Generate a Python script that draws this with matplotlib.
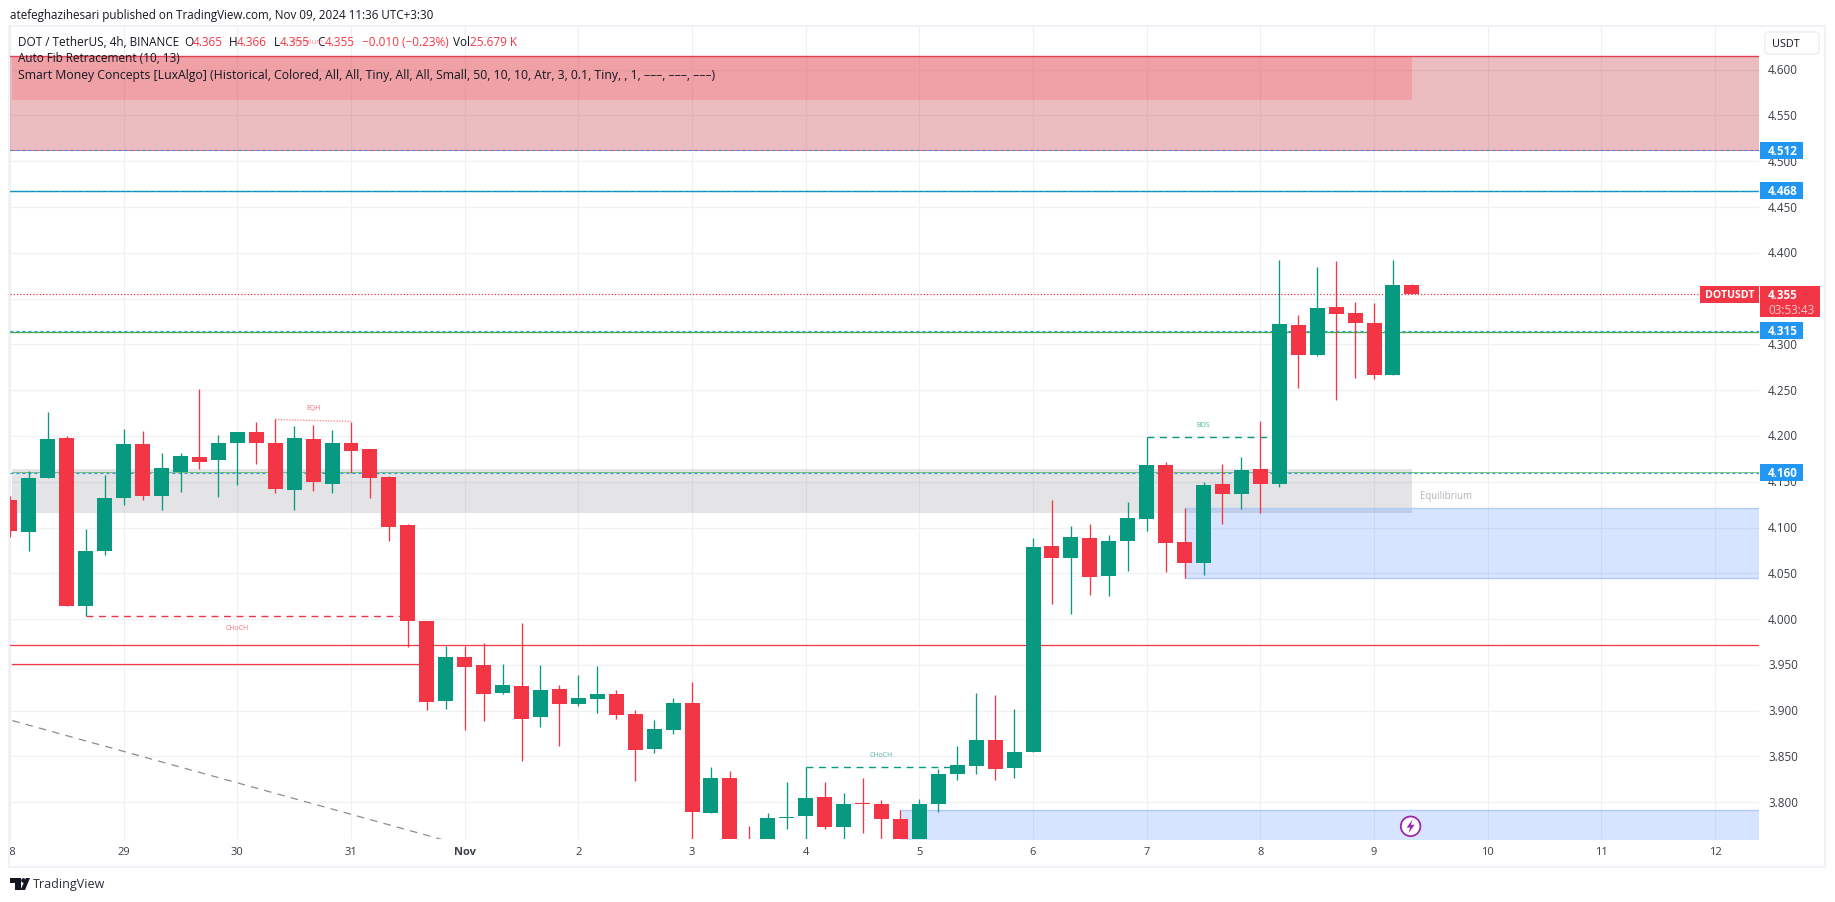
import matplotlib
matplotlib.use("Agg")
import matplotlib.pyplot as plt
from matplotlib.patches import Rectangle, Circle, Polygon, FancyBboxPatch
from matplotlib.transforms import Bbox

plt.rcParams['font.family'] = ['Open Sans', 'DejaVu Sans']

# ---- data -----------------------------------------------------------------
opens = [4.130,4.0946,4.1546,4.1983,4.0148,4.0749,4.1328,4.1907,4.1350,4.1612,
         4.1765,4.1743,4.1918,4.2038,4.1928,4.1415,4.1972,4.1481,4.1928,4.1863,
         4.1557,4.1028,3.9980,3.9106,3.9586,3.9499,3.9193,3.9270,3.8931,3.9237,
         3.9073,3.9128,3.9182,3.8964,3.8582,3.8789,3.9084,3.7883,3.8266,3.755,
         3.745,3.7829,3.7851,3.8058,3.7731,3.7993,3.7982,3.7818,3.745,3.7982,
         3.8309,3.8397,3.8681,3.8375,3.8550,4.0799,4.0668,4.0886,4.0471,4.0853,
         4.1094,4.1683,4.0843,4.0613,4.1476,4.1367,4.1640,4.1476,4.3212,4.2885,
         4.3409,4.3343,4.3234,4.2666,4.365]
highs = [4.135,4.1619,4.2267,4.2005,4.0989,4.1579,4.2081,4.2049,4.1819,4.1819,
         4.2518,4.2016,4.2038,4.2158,4.2180,4.2114,4.2125,4.2060,4.2158,4.1863,
         4.1568,4.1039,3.9980,3.9710,3.9710,3.9739,3.9510,3.9958,3.9499,3.9281,
         3.9390,3.9488,3.9226,3.9008,3.8898,3.9139,3.9313,3.8386,3.8342,3.7741,
         3.7883,3.8222,3.8382,3.8222,3.8102,3.8266,3.8025,3.7916,3.8036,3.8364,
         3.8615,3.9194,3.9172,3.9019,4.0886,4.1301,4.1017,4.1039,4.0919,4.1279,
         4.1986,4.1716,4.1214,4.1498,4.1694,4.1771,4.2164,4.3922,4.3322,4.3846,
         4.3911,4.3464,4.3453,4.3922,4.366]
lows = [4.090,4.0749,4.1546,4.0148,4.0036,4.0705,4.1251,4.1306,4.1197,4.1393,
        4.1634,4.1339,4.1470,4.1699,4.1382,4.1197,4.1404,4.1382,4.1601,4.1328,
        4.0858,3.9696,3.9008,3.9019,3.8789,3.8887,3.9182,3.8451,3.8822,3.8614,
        3.9051,3.8975,3.8909,3.8232,3.8538,3.8746,3.750,3.7883,3.740,3.730,
        3.740,3.7709,3.750,3.7709,3.750,3.7665,3.750,3.745,3.740,3.7894,
        3.8244,3.8309,3.8244,3.8266,3.8550,4.0165,4.0056,4.0264,4.0253,4.0526,
        4.0963,4.0515,4.0449,4.0482,4.1039,4.1203,4.1159,4.1443,4.2524,4.2874,
        4.2393,4.2634,4.2623,4.2666,4.355]
closes = [4.0957,4.1546,4.1972,4.0148,4.0749,4.1328,4.1907,4.1350,4.1645,4.1776,
          4.1721,4.1928,4.2038,4.1918,4.1426,4.1983,4.1492,4.1918,4.1841,4.1546,
          4.1011,3.9980,3.9095,3.9586,3.9477,3.9182,3.9281,3.8909,3.9226,3.9073,
          3.9139,3.9182,3.8953,3.8571,3.8800,3.9084,3.7894,3.8266,3.745,3.735,
          3.7829,3.784,3.8047,3.7731,3.7982,3.7982,3.7818,3.745,3.7982,3.8309,
          3.8408,3.8681,3.8364,3.8550,4.0788,4.0668,4.0897,4.0460,4.0853,4.1105,
          4.1683,4.0832,4.0613,4.1465,4.1367,4.1629,4.1476,4.3223,4.2885,4.3398,
          4.3332,4.3234,4.2666,4.3649,4.355]

day_ticks = [0,6,12,18,24,30,36,42,48,54,60,66,72,78,84,90]
day_labels = ['28','29','30','31','Nov','2','3','4','5','6','7','8','9','10','11','12']
price_ticks = [3.80,3.85,3.90,3.95,4.00,4.05,4.10,4.15,4.20,4.25,4.30,4.35,4.40,4.45,4.50,4.55,4.60]
price_labels = ['3.800','3.850','3.900','3.950','4.000','4.050','4.100','4.150','4.200',
                '4.250','4.300','4.350','4.400','4.450','4.500','4.550','4.600']
level_values = [4.512, 4.468, 4.315, 4.160]
level_labels = ['4.512', '4.468', '4.315', '4.160']
last_price = 4.355

GREEN, RED = '#089981', '#f23645'
W, H = 1835, 903
L, R, T, B = 10, 1759, 27, 840

fig = plt.figure(figsize=(W/100, H/100), dpi=100, facecolor='white')
ax = fig.add_axes([L/W, 1-B/H, (R-L)/W, (B-T)/H])
ax.set_xlim(0.1265, 92.32)
ax.set_ylim(3.7599, 4.6477)
for s in ax.spines.values():
    s.set_visible(False)
ax.set_xticks(day_ticks)
ax.set_yticks(price_ticks)
ax.set_yticklabels([])
ax.set_xticklabels([])
ax.tick_params(length=0)
ax.xaxis.grid(True, color='#eef0f3', lw=0.75, zorder=0)
ax.yaxis.grid(True, color='#f0f1f3', lw=1.0, zorder=0)
ax.set_axisbelow(True)

# ---- zones ----------------------------------------------------------------
LAST = 74
XMAX = 92.32
ax.axhspan(4.512, 4.6146, color='#c02630', alpha=0.3, lw=0, zorder=1)
ax.fill_between([0.1265, LAST], 4.5669, 4.6146, color='#f96167', alpha=0.3, lw=0, zorder=1)
ax.fill_between([0.1265, LAST], 4.1159, 4.1637, color='#787b86', alpha=0.2, lw=0, zorder=1)
ax.fill_between([62, XMAX], 4.0453, 4.1210, color='#3278ff', alpha=0.2, lw=0, zorder=1)
ax.fill_between([47, XMAX], 3.70, 3.7913, color='#3278ff', alpha=0.2, lw=0, zorder=1)
for y, x0 in [(4.1210, 62), (4.0453, 62), (3.7913, 47)]:
    ax.plot([x0, XMAX], [y, y], color='#b2cbfa', lw=1.0, zorder=1.5)

# ---- horizontal levels ----------------------------------------------------
ax.axhline(4.6146, color='#e04050', lw=1.0, zorder=2)
ax.axhline(4.512, color='#f23645', lw=0.7, alpha=0.8, zorder=2)
ax.axhline(4.467, color='#00979d', lw=1.0, zorder=2)
ax.axhline(4.314, color='#4caf50', lw=1.0, zorder=2)
ax.plot([0.1265, XMAX], [4.161, 4.161], color='#4caf50', lw=0.7, alpha=0.7, zorder=2)
ax.axhline(3.9715, color='#f23645', lw=0.9, zorder=2)
ax.plot([0.1265, 22], [3.9507, 3.9507], color='#f23645', lw=0.9, zorder=2)
for v in level_values:
    ax.axhline(v, color='#2196f3', lw=0.8, ls=(0, (2.6, 2.8)), zorder=2.2)
ax.axhline(last_price, color=RED, lw=0.9, ls=(0, (1, 1.6)), zorder=2.2)

# trend line
ax.plot([0.1265, 24], [3.8892, 3.7525], color='#8a8d96', lw=0.9, ls=(0, (6, 5)), zorder=2)

# ---- structure lines ------------------------------------------------------
ax.plot([4, 20.6], [4.0031, 4.0031], color=RED, lw=1.0, ls=(0, (5, 4)), zorder=2.5)
ax.plot([60, 66.6], [4.1986, 4.1986], color=GREEN, lw=1.0, ls=(0, (5, 4)), zorder=2.5)
ax.plot([42, 49.7], [3.8382, 3.8382], color=GREEN, lw=1.0, ls=(0, (5, 4)), zorder=2.5)
ax.plot([14, 18], [4.2180, 4.2158], color=RED, alpha=0.55, lw=1.0, ls=(0, (1, 1)), zorder=2.5)

# ---- candles --------------------------------------------------------------
for i, (o, h, l, c) in enumerate(zip(opens, highs, lows, closes)):
    col = GREEN if c >= o else RED
    ax.vlines(i, l, h, color=col, lw=0.95, zorder=3)
    ax.bar(i, abs(c-o), bottom=min(o, c), width=0.79, color=col, lw=0, zorder=3.5)

# ---- small labels ---------------------------------------------------------
lab = dict(ha='center', va='center', fontsize=5.0, zorder=4)
ax.text(12, 3.9905, 'CHoCH', color=RED, alpha=0.7, **lab)
ax.text(16, 4.2315, 'EQH', color=RED, alpha=0.7, **lab)
ax.text(63, 4.2125, 'BOS', color=GREEN, alpha=0.75, **lab)
ax.text(46, 3.8525, 'CHoCH', color=GREEN, alpha=0.7, **lab)
ax.text(75.8, 4.1350, 'Equilibrium', color='#b2b5be', ha='center', va='center', fontsize=6.9, zorder=4)

# ---- overlay in pixel coordinates (chrome) --------------------------------
px = fig.add_axes([0, 0, 1, 1], facecolor='none')
px.set_xlim(0, W)
px.set_ylim(H, 0)
px.axis('off')

DARK = '#131722'
AX_TXT = '#3a3e48'
AX_FS = 8.4
# frame
px.add_patch(Rectangle((9, 27), 1816, 841, fill=False, ec='#f0f2f8', lw=1.5))

# price scale labels
for tick, text in zip(price_ticks, price_labels):
    yy = ax.transData.transform((0, tick))[1]
    px.text(1768, H-yy, text, color=AX_TXT, fontsize=AX_FS, ha='left', va='center', zorder=2)

# level tags
for v, text in zip(level_values, level_labels):
    yy = H - ax.transData.transform((0, v))[1]
    px.add_patch(Rectangle((1760, yy-8.5), 43, 17, fc='#2196f3', ec='none', zorder=3))
    px.text(1768, yy, text, color='white', fontsize=AX_FS, fontweight='bold', ha='left', va='center', zorder=4)

# last price tags
yy = H - ax.transData.transform((0, last_price))[1]
px.add_patch(Rectangle((1700, yy-8.5), 59, 17, fc=RED, ec='none', zorder=3))
px.text(1729.5, yy, 'DOTUSDT', color='white', fontsize=7.6, fontweight='bold', ha='center', va='center', zorder=4)
px.add_patch(Rectangle((1760, yy-8.5), 60, 31.5, fc=RED, ec='none', zorder=3))
px.text(1768, yy, '4.355', color='white', fontsize=AX_FS, fontweight='bold', ha='left', va='center', zorder=4)
px.text(1768, yy+15, '03:53:43', color='#fbc4c9', fontsize=AX_FS, ha='left', va='center', zorder=4)

# USDT button
px.add_patch(FancyBboxPatch((1765, 33), 54, 22, boxstyle='round,pad=0,rounding_size=3',
                            fc='white', ec='#eef0f5', lw=1.2, zorder=3))
px.text(1786, 44.5, 'USDT', color=DARK, fontsize=7.8, ha='center', va='center', zorder=4)

# time labels
for tick, text in zip(day_ticks, day_labels):
    xx = ax.transData.transform((tick, 0))[0]
    t = px.text(xx, 853, text, color=AX_TXT, fontsize=8.0, ha='center', va='center',
                fontweight='bold' if text == 'Nov' else 'normal')
    if text == '28':
        t.set_clip_box(Bbox([[L, 0], [W, H]]))
        t.set_clip_on(True)

# header
px.text(10, 15, 'atefeghazihesari published on TradingView.com, Nov 09, 2024 11:36 UTC+3:30',
        color=DARK, fontsize=8.35, ha='left', va='center')

# legend
LEG_FS = 8.5
px.text(307, 42, 'Premium', color=RED, alpha=0.55, fontsize=5.4, ha='center', va='center', zorder=5)
px.text(18, 42, 'DOT / TetherUS, 4h, BINANCE', color=DARK, fontsize=LEG_FS, va='center')
for x0, s, c in [(184, 'O', DARK), (193, '4.365', RED), (229, 'H', DARK), (237, '4.366', RED),
                 (274, 'L', DARK), (280, '4.355', RED), (317, 'C', DARK), (325, '4.355', RED),
                 (362, '\u22120.010 (\u22120.23%)', RED), (453, 'Vol', DARK), (470, '25.679 K', RED)]:
    px.text(x0, 42, s, color=c, fontsize=LEG_FS, va='center')
px.text(18, 59, 'Auto Fib Retracement (10, 13)', color=DARK, fontsize=LEG_FS, va='center')
px.text(18, 76, 'Smart Money Concepts [LuxAlgo] (Historical, Colored, All, All, Tiny, All, All, Small, '
        '50, 10, 10, Atr, 3, 0.1, Tiny, , 1, \u2013\u2013\u2013, \u2013\u2013\u2013, \u2013\u2013\u2013)',
        color=DARK, fontsize=8.85, va='center')

# lightning icon
px.add_patch(Circle((1410.6, 827.3), 9.8, fc='white', ec='#9c27b0', lw=1.3, zorder=5))
px.add_patch(Polygon([(1412.5, 820.5), (1406.6, 828.6), (1410.1, 828.6), (1408.6, 834),
                      (1414.6, 825.8), (1411.0, 825.8)], closed=True, fc='#9c27b0', ec='none', zorder=6))

# TradingView logo
px.add_patch(Polygon([(10, 879), (21, 879), (21, 891), (15, 891), (15, 884), (10, 884)], closed=True, fc=DARK, ec='none'))
px.add_patch(Circle((23.5, 881.5), 2.3, fc=DARK, ec='none'))
px.add_patch(Polygon([(26, 879), (30, 879), (25, 891), (20.5, 891)], closed=True, fc=DARK, ec='none'))
px.text(33, 885, 'TradingView', color='#2a2e39', fontsize=9.0, va='center')

fig.savefig('out.png', dpi=100, facecolor='white')
